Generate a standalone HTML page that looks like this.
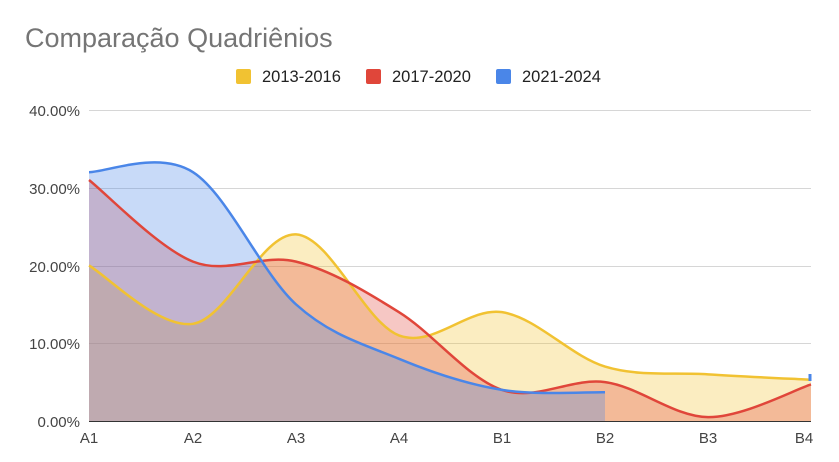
<!DOCTYPE html>
<html><head><meta charset="utf-8"><style>
body{margin:0;background:#fff;width:839px;height:462px;overflow:hidden}
svg{display:block;font-family:"Liberation Sans",sans-serif}
</style></head><body>
<svg id="s" width="839" height="462" xmlns="http://www.w3.org/2000/svg">
<text x="25" y="47" font-size="27" fill="#757575">Comparação Quadriênios</text>
<rect x="236" y="69" width="15" height="15" rx="2" fill="#f1c232"/>
<text x="262" y="82" font-size="16.5" fill="#222">2013-2016</text>
<rect x="366" y="69" width="15" height="15" rx="2" fill="#e0463a"/>
<text x="392" y="82" font-size="16.5" fill="#222">2017-2020</text>
<rect x="496" y="69" width="15" height="15" rx="2" fill="#4a86e8"/>
<text x="522" y="82" font-size="16.5" fill="#222">2021-2024</text>
<g stroke="#d6d6d6" stroke-width="1">
<line x1="89" x2="811" y1="110.5" y2="110.5"/>
<line x1="89" x2="811" y1="188.5" y2="188.5"/>
<line x1="89" x2="811" y1="266.5" y2="266.5"/>
<line x1="89" x2="811" y1="343.5" y2="343.5"/>
</g>
<g font-size="15" fill="#444" text-anchor="end">
<text x="80" y="116">40.00%</text>
<text x="80" y="194">30.00%</text>
<text x="80" y="272">20.00%</text>
<text x="80" y="349">10.00%</text>
<text x="80" y="427">0.00%</text>
</g>
<g font-size="15" fill="#444" text-anchor="middle">
<text x="89" y="443">A1</text><text x="193" y="443">A2</text><text x="296" y="443">A3</text>
<text x="399" y="443">A4</text><text x="502" y="443">B1</text><text x="605" y="443">B2</text>
<text x="708" y="443">B3</text><text x="804" y="443">B4</text>
</g>
<g id="fills"></g>
<g id="lines"></g>
<line x1="89" x2="811" y1="421.5" y2="421.5" stroke="#333" stroke-width="1"/>
<line x1="810" x2="810" y1="374" y2="381" stroke="#4a86e8" stroke-width="3"/>
</svg>
<script>
var xs=[89,193,296,399,502,605,708,811];
function y(v){return 421-v*7.775;}
var data=[
 ["#f1c232",[20,12.5,24,11,14,7,6,5.3]],
 ["#e0463a",[31,20.5,20.5,14,4,5,0.5,4.7]],
 ["#4a86e8",[32,32,15,8,4,3.7]]
];
var gf=document.getElementById('fills'),gl=document.getElementById('lines'),ns="http://www.w3.org/2000/svg";
data.forEach(function(d){
 var p=d[1].map(function(v,i){return [xs[i],y(v)]});
 var s="M"+p[0][0]+","+p[0][1];
 for(var i=0;i<p.length-1;i++){
  var p0=p[i-1]||p[i],p1=p[i],p2=p[i+1],p3=p[i+2]||p2;
  var c1=[p1[0]+(p2[0]-p0[0])/6,p1[1]+(p2[1]-p0[1])/6];
  var c2=[p2[0]-(p3[0]-p1[0])/6,p2[1]-(p3[1]-p1[1])/6];
  s+=" C"+c1+" "+c2+" "+p2;
 }
 var last=p[p.length-1];
 var a=document.createElementNS(ns,"path");
 a.setAttribute("d",s+" L"+last[0]+",421 L"+p[0][0]+",421 Z");
 a.setAttribute("fill",d[0]);a.setAttribute("fill-opacity","0.3");
 gf.appendChild(a);
 var l=document.createElementNS(ns,"path");
 l.setAttribute("d",s);l.setAttribute("fill","none");
 l.setAttribute("stroke",d[0]);l.setAttribute("stroke-width","2.5");
 gl.appendChild(l);
});
</script>
</body></html>
